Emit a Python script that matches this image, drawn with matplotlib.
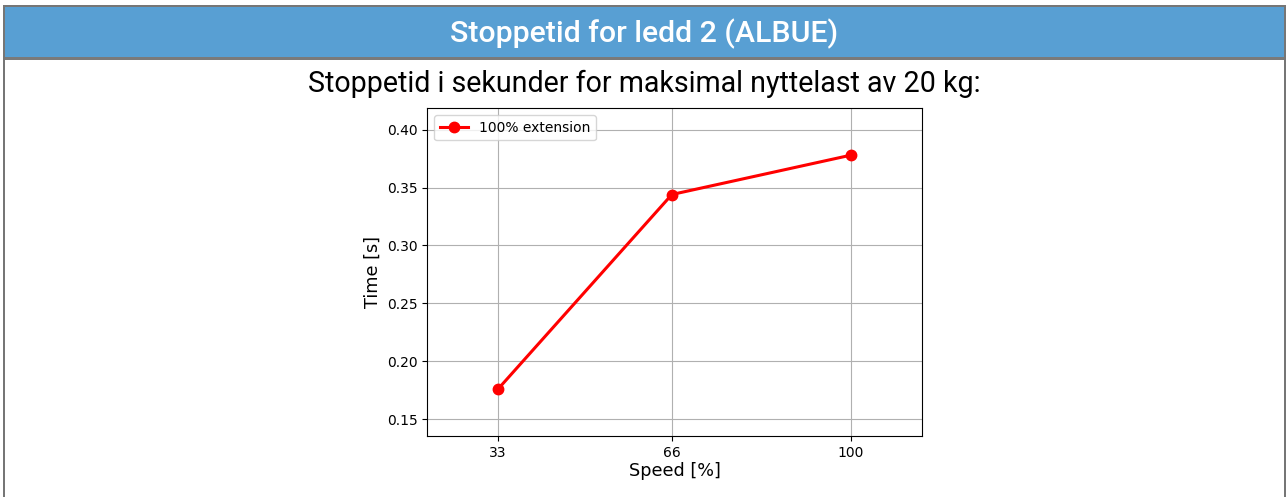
import matplotlib.pyplot as plt
from matplotlib.patches import Rectangle

# Stoppetid, ledd 2 (albue), 20 kg nyttelast
speed = [33, 66, 100]
time_100 = [0.176, 0.344, 0.378]
series_label = "100% extension"

W, H = 1288, 497
fig = plt.figure(figsize=(W / 100, H / 100), dpi=100)
fig.patch.set_facecolor("white")


def px(x, y, w, h):
    # pixel box (top-left origin) -> figure fraction
    return (x / W, 1 - (y + h) / H, w / W, h / H)


# panel frame + header bar
for box, col in [
    ((3, 5, 1283, 495), "#767676"),
    ((5, 7, 1279, 493), "white"),
    ((5, 7, 1279, 50), "#589fd3"),
    ((5, 57, 1279, 3), "#7a7a7a"),
]:
    x0, y0, w, h = px(*box)
    fig.add_artist(Rectangle((x0, y0), w, h, transform=fig.transFigure,
                             facecolor=col, edgecolor="none", zorder=0))

fig.text(644 / W, 1 - 34 / H, "Stoppetid for ledd 2 (ALBUE)", color="white",
         fontsize=21.8, weight="medium", family="Roboto", ha="center", va="center")
fig.text(644 / W, 1 - 84 / H, "Stoppetid i sekunder for maksimal nyttelast av 20 kg:",
         color="black", fontsize=20.6, family="Roboto", ha="center", va="center")

ax = fig.add_axes(px(427.3, 108.3, 494.4, 327.7))
ax.plot(speed, time_100, color="red", lw=2.2, marker="o", ms=7.5, label=series_label)
ax.margins(0.2)
ax.set_xticks(speed)
ax.grid(True, color="#b0b0b0", lw=0.8)
ax.tick_params(labelsize=10)
ax.set_xlabel("Speed [%]", fontsize=12.7, labelpad=2)
ax.set_ylabel("Time [s]", fontsize=12.7)
ax.legend(loc="upper left", fontsize=10)

fig.savefig("out.png", dpi=100)
